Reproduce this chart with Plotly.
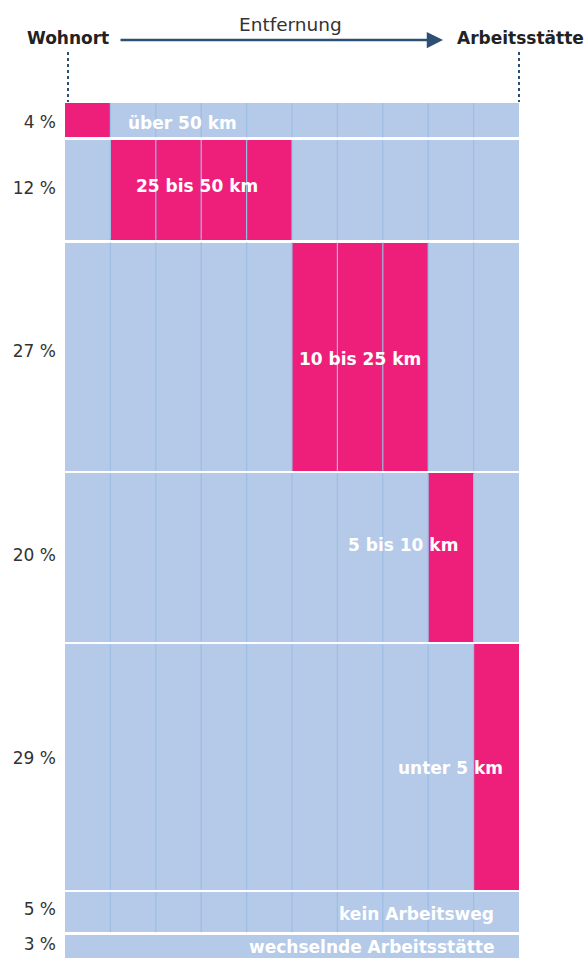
import plotly.graph_objects as go

# ---- data ----
shares = [4, 12, 27, 20, 29, 5, 3]
share_labels = ["4 %", "12 %", "27 %", "20 %", "29 %", "5 %", "3 %"]
categories = ["über 50 km", "25 bis 50 km", "10 bis 25 km", "5 bis 10 km",
              "unter 5 km", "kein Arbeitsweg", "wechselnde Arbeitsstätte"]
pink_start = [0, 1, 5, 8, 9, 0, 0]
pink_len = [1, 4, 3, 1, 1, 0, 0]
has_grid = [True, True, True, True, True, True, False]
n_cols = 10
header_left = "Wohnort"
header_right = "Arbeitsstätte"
header_mid = "Entfernung"

# ---- style ----
BLUE = "#b4cae8"
PINK = "#ee1f7a"
GRID = "#9cbde4"
DARK = "#2d4f73"
FONT = "DejaVu Sans"
GAP = 0.33
TICK_SHIFT = [0.2, -0.2, -0.6, -0.35, -1.1, -0.4, -0.3]

starts = []
acc = 0
for s in shares:
    starts.append(acc)
    acc += s
lows = [st + (GAP if i > 0 else 0) for i, st in enumerate(starts)]
highs = [st + s for st, s in zip(starts, shares)]
widths = [h - l for l, h in zip(lows, highs)]
centers = [(l + h) / 2 for l, h in zip(lows, highs)]

fig = go.Figure()
fig.add_trace(go.Bar(orientation="h", y=centers, x=[n_cols] * len(shares),
                     base=[0] * len(shares), width=widths,
                     marker=dict(color=BLUE, line=dict(width=0)),
                     hoverinfo="skip", showlegend=False))
fig.add_trace(go.Bar(orientation="h", y=centers, x=pink_len, base=pink_start,
                     width=widths, marker=dict(color=PINK, line=dict(width=0)),
                     hoverinfo="skip", showlegend=False))

gx, gy = [], []
for l, h, g in zip(lows, highs, has_grid):
    if not g:
        continue
    for c in range(1, n_cols):
        gx += [c, c, None]
        gy += [l, h, None]
fig.add_trace(go.Scatter(x=gx, y=gy, mode="lines",
                         line=dict(color=GRID, width=1.2),
                         hoverinfo="skip", showlegend=False))

# labels inside bars: (x, y offset from row centre, anchor)
label_pos = [(1.35, 0.3, "left"), (2.9, -0.5, "center"), (6.5, 0.3, "center"),
             (8.7, -1.5, "right"), (9.7, 0.1, "right"), (9.5, 0.2, "right"),
             (9.5, 0.0, "right")]
for cat, c, (lx, dy, anc) in zip(categories, centers, label_pos):
    fig.add_annotation(x=lx, y=c + dy, xref="x", yref="y", text=f"<b>{cat}</b>",
                       showarrow=False, xanchor=anc, yanchor="middle",
                       font=dict(family=FONT, size=17, color="white"))

# header
PH = 855.0
PW = 454.0
def py(px_from_top):
    return 1 + (103 - px_from_top) / PH
def pxx(px):
    return (px - 65) / PW

fig.add_annotation(x=pxx(68), y=py(38), xref="paper", yref="paper",
                   text=f"<b>{header_left}</b>", showarrow=False,
                   xanchor="center", yanchor="middle",
                   font=dict(family=FONT, size=17, color="#222222"))
fig.add_annotation(x=pxx(520), y=py(38), xref="paper", yref="paper",
                   text=f"<b>{header_right}</b>", showarrow=False,
                   xanchor="center", yanchor="middle",
                   font=dict(family=FONT, size=17, color="#222222"))
fig.add_annotation(x=pxx(290), y=py(24), xref="paper", yref="paper",
                   text=header_mid, showarrow=False,
                   xanchor="center", yanchor="middle",
                   font=dict(family=FONT, size=18.5, color="#333333"))
fig.add_annotation(x=pxx(443), y=py(40), xref="paper", yref="paper",
                   text="", showarrow=True, ax=-(443 - 119), ay=0,
                   arrowhead=2, arrowsize=1.3, arrowwidth=2.5,
                   arrowcolor=DARK, standoff=0, startstandoff=0)
for xpix in (68, 519):
    fig.add_shape(type="line", xref="paper", yref="paper",
                  x0=pxx(xpix), x1=pxx(xpix), y0=py(52), y1=py(102),
                  line=dict(color=DARK, width=2, dash="dot"))

fig.update_layout(
    width=584, height=958,
    margin=dict(l=65, r=65, t=103, b=0, autoexpand=False),
    paper_bgcolor="white", plot_bgcolor="white",
    barmode="overlay", bargap=0,
    font=dict(family=FONT),
    xaxis=dict(range=[0, n_cols], visible=False, fixedrange=True),
    yaxis=dict(range=[100, 0], showgrid=False, zeroline=False, showline=False,
               tickmode="array",
               tickvals=[c + d for c, d in zip(centers, TICK_SHIFT)],
               ticktext=share_labels,
               ticks="", ticklabelstandoff=8,
               tickfont=dict(family=FONT, size=17, color="#333333"),
               fixedrange=True),
)

fig.write_html("out.html", config={"displayModeBar": False},
               post_script="document.body.style.margin='0px';document.body.style.overflow='hidden';")
